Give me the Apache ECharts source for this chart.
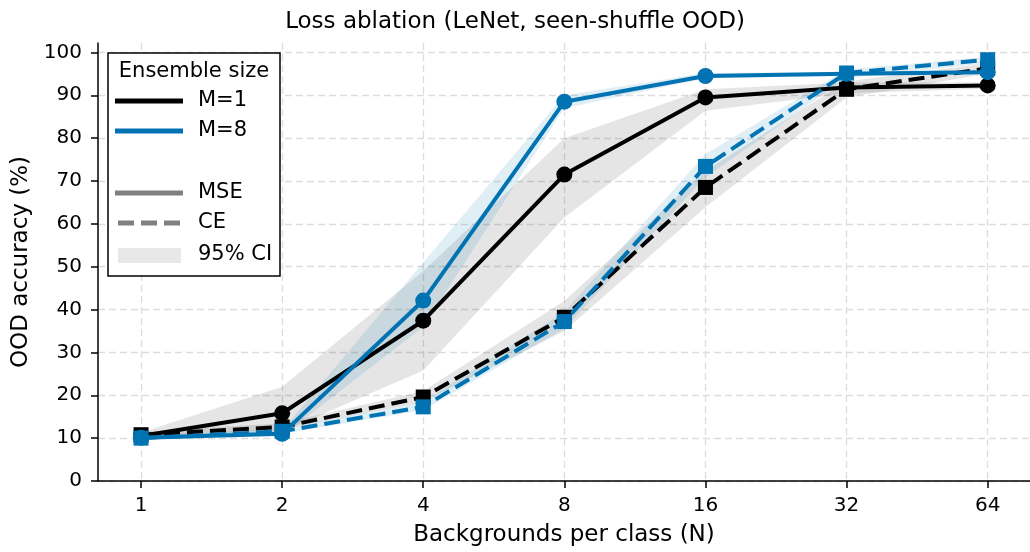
<!DOCTYPE html>
<html>
<head>
<meta charset="utf-8">
<script src="https://cdn.jsdelivr.net/npm/echarts@6/dist/echarts.min.js"></script>
<style>
  html, body { margin: 0; padding: 0; background: #fff; }
  #chart { width: 1030px; height: 552px; }
</style>
</head>
<body>
<div id="chart"></div>
<script>
// backgrounds per class (log2 steps, drawn at index positions)
const nLabels = ['1', '2', '4', '8', '16', '32', '64']
const nIndex = [0, 1, 2, 3, 4, 5, 6]
const yTicks = [0, 10, 20, 30, 40, 50, 60, 70, 80, 90, 100]

// OOD accuracy (%) means
const mseM1 = [10.5, 15.8, 37.4, 71.5, 89.5, 91.8, 92.3]
const mseM8 = [10.1, 11.0, 42.1, 88.5, 94.5, 95.0, 95.4]
const ceM1 = [10.8, 12.6, 19.6, 38.2, 68.5, 91.4, 96.3]
const ceM8 = [10.0, 11.6, 17.3, 37.2, 73.4, 95.2, 98.3]

// 95% CI bounds
const mseM1Lo = [9.8, 11.5, 25.8, 61.5, 86.4, 90.5, 91.5]
const mseM1Hi = [11.3, 22.0, 49.0, 80.0, 91.4, 93.0, 93.0]
const mseM8Lo = [9.6, 10.5, 36.0, 87.0, 94.0, 94.5, 95.0]
const mseM8Hi = [10.6, 11.8, 51.0, 90.0, 95.2, 95.5, 96.0]
const ceM1Lo = [10.2, 12.0, 18.5, 35.0, 63.9, 89.5, 95.0]
const ceM1Hi = [11.5, 13.5, 21.0, 42.0, 72.4, 93.2, 97.5]
const ceM8Lo = [9.5, 11.0, 16.5, 35.5, 70.9, 94.0, 97.5]
const ceM8Hi = [10.5, 12.2, 18.5, 39.5, 76.3, 96.0, 99.0]

const BLACK = '#000000'
const BLUE = '#0173b2'
const FONT = 'DejaVu Sans'
const DASH = [16, 7]

const chart = echarts.init(document.getElementById('chart'), null, { renderer: 'canvas' })

// CI band drawn as one polygon through the axis scales
function band(name, lo, hi, fill) {
    return {
        name: name,
        type: 'custom',
        z: 1,
        silent: true,
        data: nIndex.map((x, i) => [x, lo[i], hi[i]]),
        encode: { x: 0, y: [1, 2] },
        renderItem: (params, api) => {
            if (params.dataIndex !== 0) return null
            const pts = []
            nIndex.forEach((x, i) => pts.push(api.coord([x, lo[i]])))
            for (let i = nIndex.length - 1; i >= 0; i--) pts.push(api.coord([nIndex[i], hi[i]]))
            return { type: 'polygon', shape: { points: pts }, style: { fill: fill } }
        }
    }
}

function line(name, values, color, dashed, z) {
    return {
        name: name,
        type: 'line',
        z: z,
        data: nIndex.map((x, i) => [x, values[i]]),
        symbol: dashed ? 'rect' : 'circle',
        symbolSize: dashed ? 15 : 16,
        showSymbol: true,
        animation: false,
        itemStyle: { color: color },
        lineStyle: { color: color, width: 4, type: dashed ? DASH : 'solid', cap: 'butt' }
    }
}

const greyBand = 'rgba(0,0,0,0.10)'
const blueBand = 'rgba(1,115,178,0.12)'

// legend (matplotlib style box)
const LFONT = '21px "DejaVu Sans"'
const legendItems = [
    { type: 'rect', shape: { x: 108, y: 53, width: 172, height: 223 }, style: { fill: '#fff', stroke: '#000', lineWidth: 1.5 } },
    { type: 'text', x: 194, y: 72, style: { text: 'Ensemble size', font: LFONT, fill: '#000', align: 'center', verticalAlign: 'middle' } },
    { type: 'line', shape: { x1: 115, y1: 101, x2: 183, y2: 101 }, style: { stroke: BLACK, lineWidth: 5 } },
    { type: 'text', x: 198, y: 101, style: { text: 'M=1', font: LFONT, fill: '#000', verticalAlign: 'middle' } },
    { type: 'line', shape: { x1: 115, y1: 131, x2: 183, y2: 131 }, style: { stroke: BLUE, lineWidth: 5 } },
    { type: 'text', x: 198, y: 131, style: { text: 'M=8', font: LFONT, fill: '#000', verticalAlign: 'middle' } },
    { type: 'line', shape: { x1: 115, y1: 193, x2: 183, y2: 193 }, style: { stroke: '#808080', lineWidth: 5 } },
    { type: 'text', x: 198, y: 193, style: { text: 'MSE', font: LFONT, fill: '#000', verticalAlign: 'middle' } },
    { type: 'line', shape: { x1: 118, y1: 223, x2: 183, y2: 223 }, style: { stroke: '#808080', lineWidth: 5, lineDash: DASH } },
    { type: 'text', x: 198, y: 223, style: { text: 'CE', font: LFONT, fill: '#000', verticalAlign: 'middle' } },
    { type: 'rect', shape: { x: 118, y: 248, width: 63, height: 15 }, style: { fill: '#e8e8e8' } },
    { type: 'text', x: 198, y: 255, style: { text: '95% CI', font: LFONT, fill: '#000', verticalAlign: 'middle' } }
]

const option = {
    animation: false,
    backgroundColor: '#fff',
    textStyle: { fontFamily: FONT },
    title: {
        text: 'Loss ablation (LeNet, seen-shuffle OOD)',
        left: 'center',
        top: 6,
        textStyle: { fontFamily: FONT, fontSize: 23, fontWeight: 'normal', color: '#000' }
    },
    grid: { left: 98, top: 43, width: 935, height: 439, containLabel: false },
    xAxis: {
        type: 'value',
        min: -0.305,
        max: 6.3,
        name: 'Backgrounds per class (N)',
        nameLocation: 'middle',
        nameGap: 43,
        nameTextStyle: { fontFamily: FONT, fontSize: 23, color: '#000' },
        axisLine: { onZero: false, lineStyle: { color: '#000', width: 1.5 } },
        axisTick: { show: true, length: 7, inside: false, customValues: nIndex, lineStyle: { color: '#000', width: 1.5 } },
        axisLabel: {
            customValues: nIndex,
            fontFamily: FONT, fontSize: 20, color: '#000', margin: 15,
            formatter: v => nLabels[Math.round(v)]
        },
        splitLine: { show: true, lineStyle: { color: '#dddddd', width: 1.3, type: [7, 4] } }
    },
    yAxis: {
        type: 'value',
        min: 0,
        max: 102.2,
        name: 'OOD accuracy (%)',
        nameLocation: 'middle',
        nameGap: 64,
        nameTextStyle: { fontFamily: FONT, fontSize: 23, color: '#000' },
        axisLine: { show: true, onZero: false, lineStyle: { color: '#000', width: 1.5 } },
        axisTick: { show: true, length: 7, customValues: yTicks, lineStyle: { color: '#000', width: 1.5 } },
        axisLabel: { customValues: yTicks, fontFamily: FONT, fontSize: 20, color: '#000', margin: 16 },
        splitLine: { show: true, lineStyle: { color: '#dddddd', width: 1.3, type: [7, 4] } }
    },
    graphic: { elements: legendItems.map(e => Object.assign({ z: 100, silent: true }, e)) },
    series: [
        band('MSE M=1 CI', mseM1Lo, mseM1Hi, greyBand),
        band('MSE M=8 CI', mseM8Lo, mseM8Hi, blueBand),
        band('CE M=1 CI', ceM1Lo, ceM1Hi, greyBand),
        band('CE M=8 CI', ceM8Lo, ceM8Hi, blueBand),
        line('MSE M=1', mseM1, BLACK, false, 3),
        line('CE M=1', ceM1, BLACK, true, 4),
        line('MSE M=8', mseM8, BLUE, false, 5),
        line('CE M=8', ceM8, BLUE, true, 6)
    ]
}

chart.setOption(option)
</script>
</body>
</html>
